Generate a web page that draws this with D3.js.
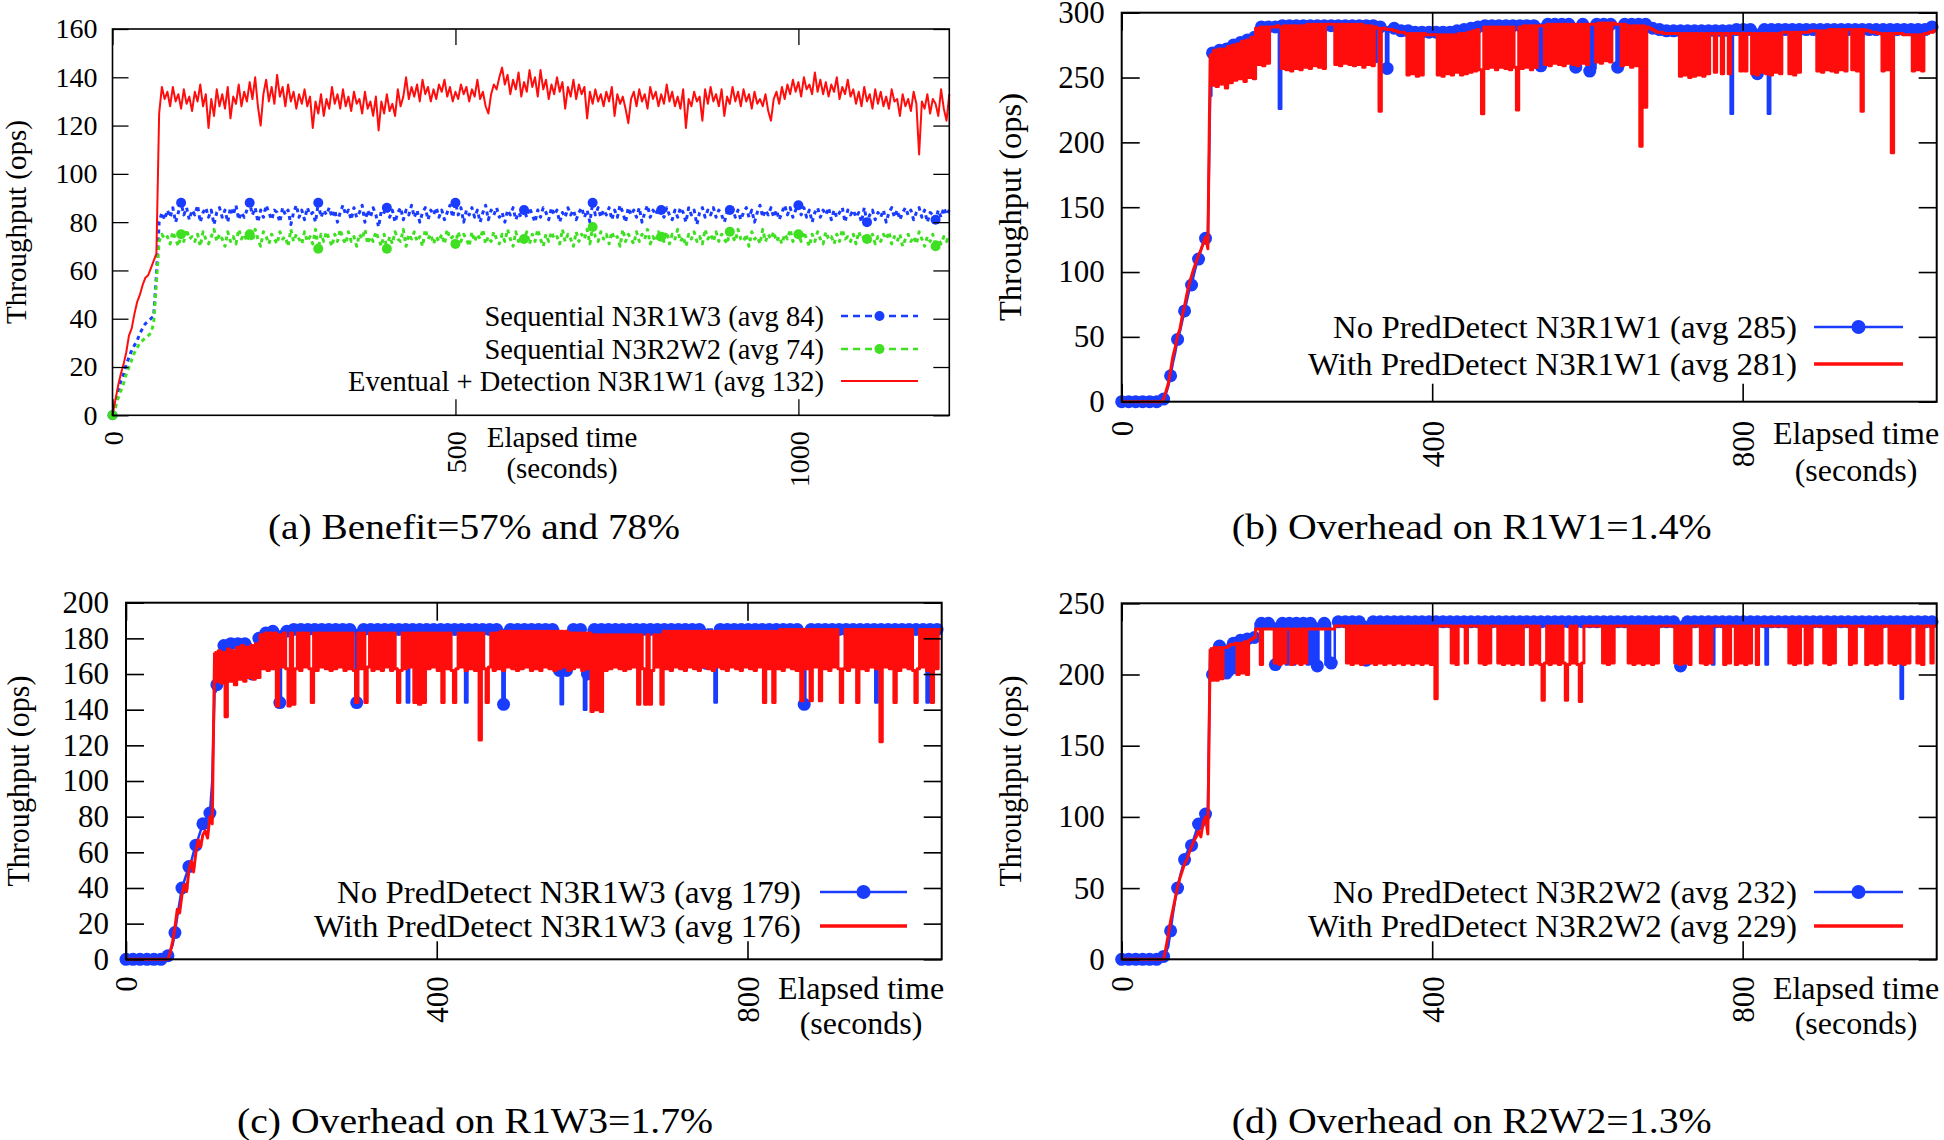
<!DOCTYPE html>
<html><head><meta charset="utf-8">
<script src="https://cdn.jsdelivr.net/npm/d3@7/dist/d3.min.js"></script>
<style>
html,body{margin:0;padding:0;background:#fff;}
svg{display:block;}
text{font-family:"Liberation Serif","Times New Roman",Times,serif;fill:#000;}
</style></head><body>
<svg id="chart" width="1944" height="1140"></svg>
<script>
// ================= DATA =================
// Panel (a): one value every 4 s, t = 0..1220
const aTimeStep = 4;
const aSeqN3R1W3 = [
0,5,10,14,17,21,24,27,29,31, 34,36,38,39,40,41,58,80,84,81,
85,82,86,80,84,88,83,86,81,85, 83,87,80,84,86,82,85,79,84,86,
82,85,80,86,83,87,81,84,82,85, 88,83,86,80,85,82,87,84,81,85,
84,80,86,83,85,79,84,87,82,85, 81,86,83,84,80,88,82,85,83,86,
82,85,80,84,87,83,85,81,86,82, 84,87,80,85,82,86,83,78,85,84,
86,82,85,80,84,86,81,85,83,87, 82,85,80,84,86,81,85,83,86,82,
85,81,84,87,82,88,83,86,80,85, 83,86,82,85,80,84,87,81,85,83,
86,82,84,80,85,83,86,81,84,82, 85,82,86,83,80,85,82,86,84,81,
86,83,85,80,84,82,86,83,85,81, 84,86,82,85,80,88,83,86,82,85,
83,86,81,85,82,87,84,80,86,83, 85,82,86,80,84,87,82,85,83,86,
85,82,86,83,81,85,82,86,84,80, 86,83,85,79,84,86,82,85,83,86,
82,85,83,80,84,85,86,82,85,81, 84,86,82,85,80,84,87,82,85,83,
86,82,85,81,84,87,83,86,82,85, 87,83,86,82,85,80,84,86,82,85,
83,86,81,85,82,84,86,80,85,83, 85,82,84,80,86,80,83,85,81,84,
82,85,80,84,86,82,85,81,84,86, 83,85,81,84,86,82,85,80,84,83,
81,85,82,86,83,85];
const aSeqN3R2W2 = [
0,3,7,10,13,17,20,23,26,28, 30,31,32,33,34,38,55,72,75,73,
74,71,76,73,70,75,72,77,73,74, 72,75,70,76,73,71,74,77,72,75,
73,70,76,72,74,71,77,73,75,72, 75,72,77,73,70,76,74,71,75,73,
71,76,73,74,70,77,72,75,73,71, 76,72,74,71,77,69,75,72,76,73,
70,75,72,77,73,71,76,72,74,70, 75,73,77,71,74,72,76,73,70,75,
69,74,71,76,73,72,77,70,75,73, 76,72,74,70,77,73,75,71,74,72,
75,71,77,73,74,71,76,72,75,73, 70,76,72,75,73,77,71,74,72,76,
73,71,75,72,77,73,70,76,72,74, 73,76,71,75,72,77,73,70,75,72,
76,73,74,71,77,72,75,73,70,76, 72,75,73,77,71,78,74,72,76,73,
75,71,76,73,74,70,77,72,75,73, 71,76,72,75,73,77,71,74,72,76,
74,72,76,71,75,73,77,72,74,70, 75,73,76,72,74,71,77,73,75,72,
76,72,75,73,71,76,74,72,77,73, 72,75,70,76,73,74,71,77,72,75,
73,76,72,74,71,75,73,77,72,74, 75,72,76,73,70,75,72,76,73,71,
76,73,74,71,75,72,77,73,74,72, 75,71,76,73,74,73,72,75,71,74,
72,75,73,76,71,74,72,75,70,73, 75,72,74,71,76,73,70,74,72,75,
70,73,71,74,72,75];
const aEventualN3R1W1 = [
0,6,12,17,21,26,33,36,42,47, 50,54,57,58,61,64,67,125,136,131,
134,128,136,130,133,127,135,129,132,126, 134,130,137,128,133,119,131,124,135,128,
133,127,136,123,132,129,137,128,134,130, 138,131,140,128,120,133,139,130,136,129,
141,132,136,128,137,130,134,127,133,129, 135,128,132,119,130,125,133,124,131,127,
136,129,133,127,135,128,132,126,134,129, 131,125,134,127,130,124,132,118,130,125,
133,126,129,124,135,128,132,140,131,136, 132,137,130,139,133,136,130,135,131,137,
134,139,132,136,130,134,131,137,133,136, 130,135,132,139,131,134,128,125,133,137,
135,140,144,137,141,133,139,135,142,132, 138,134,143,136,140,132,143,135,139,131,
137,133,140,134,138,127,136,132,139,131, 137,133,136,123,134,129,135,130,133,128,
134,130,136,124,133,129,132,127,121,131, 134,128,135,130,133,127,136,131,134,128,
133,129,137,130,134,128,132,127,135,119, 131,128,134,130,132,122,135,129,136,130,
133,128,135,124,132,129,136,130,134,128, 135,130,133,127,134,129,131,128,133,126,
122,131,134,129,136,131,137,133,139,134, 138,132,140,135,137,133,142,134,139,133,
138,132,137,134,140,131,136,133,139,132, 135,129,134,128,136,130,133,127,135,129,
134,128,132,127,135,130,131,124,133,128, 131,126,134,129,108,130,127,133,125,131,
129,124,135,127,122,133];

// Panels (b)(c)(d): one value every 3 s, t = 0..1050
const bcdTimeStep = 3;
const bNoPredDetect = [
0,0,0,0,0,0,0,0,0,0, 0,0,0,0,0,0,0,0,2,6,
12,20,30,38,48,54,62,70,78,86, 90,98,105,110,117,122,126,128,236,269,
268,270,271,245,272,272,273,274,275,276, 276,277,278,279,279,280,281,281,288,288,
289,289,289,289,289,289,289,289,226,290, 290,290,290,290,290,290,290,290,290,290,
290,290,290,290,290,290,290,290,290,290, 290,290,290,290,290,290,290,290,290,290,
290,290,290,290,290,290,290,290,290,262, 289,289,289,289,257,289,288,288,287,287,
286,286,286,286,286,286,285,285,285,285, 285,285,285,285,285,285,285,285,285,285,
285,285,285,286,286,286,287,287,288,288, 288,289,289,289,289,289,290,290,290,290,
290,290,290,290,290,290,290,290,290,290, 290,290,290,290,290,290,290,290,258,291,
259,291,291,291,291,291,291,291,291,291, 291,291,291,291,291,258,291,291,291,291,
291,255,291,257,291,291,291,291,291,291, 291,291,291,258,291,291,291,291,291,291,
291,291,291,291,291,291,290,289,288,287, 287,287,286,286,286,286,286,286,286,286,
286,286,286,286,286,286,286,286,286,286, 286,286,286,286,286,286,286,286,286,286,
286,286,222,287,287,287,287,287,287,287, 287,287,287,253,287,287,287,287,222,287,
287,287,287,287,287,287,287,287,287,287, 287,287,287,287,287,287,287,287,287,287,
287,287,287,287,287,287,287,287,287,287, 287,287,287,287,287,287,287,287,287,287,
287,287,287,287,287,287,287,287,287,287, 287,287,287,287,287,287,287,287,287,287,
287,287,287,287,287,287,288,288,289,289, 290];
const bWithPredDetect = [
0,0,0,0,0,0,0,0,0,0, 0,0,0,0,0,0,0,0,2,8,
14,24,35,42,51,56,66,74,83,91, 97,103,108,113,117,122,127,118,268,244,
271,243,272,245,272,242,274,246,275,248, 276,249,278,247,279,250,281,249,288,260,
289,259,289,261,289,289,289,290,289,257, 290,256,290,255,290,257,290,256,290,258,
291,257,291,259,291,258,291,257,291,291, 291,291,260,291,259,291,261,291,260,291,
259,291,260,291,258,290,260,290,259,289, 288,224,288,288,287,287,287,286,286,285,
285,285,284,252,284,253,284,251,284,252, 284,283,283,283,283,283,252,283,251,283,
253,283,252,283,254,284,252,284,253,285, 254,286,255,287,256,222,289,257,289,258,
289,256,289,258,289,257,289,256,289,258, 225,289,257,290,258,290,256,290,258,290,
290,290,260,291,259,291,261,291,260,291, 259,291,261,291,260,291,259,291,261,291,
260,291,291,291,262,292,261,292,263,292, 262,292,291,291,291,259,291,260,290,258,
290,259,290,197,290,227,289,288,287,286, 285,285,285,284,284,284,284,284,284,284,
251,284,252,284,250,284,251,284,252,284, 251,284,253,284,284,254,284,284,253,284,
284,253,284,284,284,284,255,284,255,284, 284,253,284,252,284,254,284,253,284,252,
284,254,284,253,285,285,285,253,285,252, 285,254,285,285,285,285,286,286,286,255,
286,254,286,256,287,255,287,254,287,256, 287,255,287,287,256,287,255,287,224,287,
286,286,285,285,285,284,284,255,284,256, 284,192,284,284,284,284,283,283,283,283,
255,283,256,283,255,284,284,285,285,286, 286];
const cNoPredDetect = [
0,0,0,0,0,0,0,0,0,0, 0,0,0,0,0,0,0,0,2,5,
8,15,24,32,40,44,48,52,55,60, 64,68,72,76,78,80,82,100,150,154,
170,176,176,176,176,177,177,177,177,177, 177,177,177,177,160,158,178,180,181,182,
183,184,184,184,184,184,144,184,184,184, 185,185,185,185,185,185,185,185,185,185,
185,185,185,185,185,185,185,185,185,185, 185,185,185,185,185,185,185,185,185,144,
185,185,185,185,185,185,185,185,185,185, 185,185,185,185,185,185,185,185,185,185,
185,144,185,185,185,185,185,185,185,185, 185,185,185,185,185,185,185,185,185,185,
185,185,185,185,185,185,144,185,185,185, 185,185,185,185,185,185,185,185,185,185,
185,185,143,185,185,185,185,185,185,185, 185,185,185,185,185,185,185,185,185,185,
185,185,185,185,185,185,162,143,162,162, 162,185,185,185,185,185,185,140,160,185,
185,185,185,185,185,185,185,185,185,185, 185,185,185,185,185,185,185,185,185,185,
185,185,185,185,185,185,185,185,185,185, 185,185,185,185,185,185,185,185,185,185,
185,185,185,185,185,185,185,185,185,166, 185,185,166,144,185,185,185,185,185,185,
185,185,185,185,185,185,185,185,185,185, 185,185,185,185,185,185,185,185,185,185,
185,185,185,185,185,185,185,185,185,185, 185,143,185,185,185,185,185,185,185,185,
185,185,185,185,185,185,185,185,185,185, 185,185,185,185,185,185,185,185,185,185,
185,185,144,185,185,185,185,185,185,185, 185,185,185,185,185,185,185,185,185,185,
185,185,185,185,144,185,185,185,185,185, 186];
const cWithPredDetect = [
0,0,0,0,0,0,0,0,0,0, 0,0,0,0,0,0,0,0,0,4,
10,18,28,26,36,42,38,50,55,49, 60,67,63,70,72,68,80,76,172,156,
173,155,172,136,174,156,173,154,175,157, 176,156,175,158,176,157,177,158,182,163,
183,162,183,163,183,142,182,164,183,163, 142,183,143,163,183,162,183,164,183,163,
144,183,162,183,164,183,163,183,162,183, 163,183,164,183,162,183,163,183,162,144,
183,163,183,144,164,183,162,183,163,183, 162,183,164,183,162,183,163,144,162,183,
163,183,164,183,144,183,143,183,144,183, 163,183,164,183,162,183,144,183,163,183,
162,144,163,183,164,183,162,183,163,183, 162,183,123,183,163,144,164,183,162,183,
163,184,162,184,164,184,163,184,162,184, 163,184,164,184,162,184,163,184,162,184,
164,184,163,184,162,184,163,184,164,184, 162,183,163,183,164,183,162,183,163,183,
139,182,140,182,139,182,162,182,163,182, 164,182,163,182,162,182,163,182,164,182,
143,182,163,143,182,143,162,182,164,182, 143,184,163,184,162,184,164,184,163,184,
162,184,164,184,163,184,162,184,164,184, 163,184,162,184,164,184,163,184,162,184,
164,184,163,184,162,184,164,184,163,184, 162,184,164,184,144,184,163,184,144,184,
163,185,162,185,164,185,163,185,162,185, 145,185,163,185,145,185,164,185,145,185,
163,185,162,185,164,185,163,144,163,185, 162,185,164,185,144,185,163,185,162,185,
164,185,163,185,122,185,164,185,163,185, 144,185,162,185,164,185,163,185,162,144,
163,185,164,185,162,185,144,185,163,185, 185];
const dNoPredDetect = [
0,0,0,0,0,0,0,0,0,0, 0,0,0,0,0,0,0,0,2,5,
9,20,32,42,50,58,64,70,75,78, 80,85,90,95,99,100,102,104,218,200,
219,200,220,199,220,201,221,200,222,201, 223,224,224,225,225,226,226,226,236,236,
236,236,236,236,236,236,207,236,207,236, 236,207,236,236,207,236,236,236,236,236,
207,236,207,236,206,236,236,236,207,236, 208,207,237,237,237,237,237,237,237,237,
237,237,237,237,237,210,237,237,237,237, 237,237,237,237,237,237,237,237,237,237,
237,237,237,237,237,237,237,237,237,237, 237,237,237,237,237,237,237,237,237,237,
237,237,237,237,237,237,237,237,237,237, 237,237,237,237,237,237,237,237,237,237,
237,237,237,237,237,237,237,237,237,237, 237,237,237,237,237,237,237,237,237,237,
237,237,237,237,237,237,237,237,237,237, 237,237,237,237,237,237,237,237,237,237,
237,237,237,237,237,237,237,237,237,237, 237,237,237,237,237,237,237,237,237,237,
237,237,237,237,237,237,237,237,237,237, 237,237,237,237,237,237,237,237,237,237,
206,237,237,237,237,237,237,237,237,237, 237,237,237,237,207,237,237,237,237,237,
237,237,237,237,237,237,237,237,237,237, 237,237,237,237,237,237,237,207,237,237,
237,237,237,237,237,237,237,237,237,237, 237,237,237,237,237,237,237,237,237,237,
237,237,237,237,237,237,237,237,237,237, 237,237,237,237,237,237,237,237,237,237,
237,237,237,237,237,237,237,237,237,237, 237,237,237,237,237,183,237,237,237,237,
237,237,237,237,237,237,237,237,237,237, 237];
const dWithPredDetect = [
0,0,0,0,0,0,0,0,0,0, 0,0,0,0,0,0,0,0,0,8,
17,27,35,43,51,57,62,67,70,75, 79,83,86,90,86,96,100,88,218,196,
219,196,219,197,219,219,220,221,221,222, 200,222,201,223,200,224,225,226,232,232,
207,232,232,232,232,232,208,232,207,232, 208,232,232,207,232,208,232,207,232,208,
232,232,232,232,232,232,232,232,232,232, 232,232,234,234,234,234,234,208,234,207,
234,208,234,207,234,208,234,208,234,207, 234,208,234,207,234,208,234,207,234,208,
234,207,234,208,234,207,234,208,234,207, 234,208,234,207,234,183,234,234,234,234,
234,234,208,234,207,234,234,234,208,234, 234,234,234,234,208,234,207,234,208,234,
234,234,208,234,207,234,208,234,207,234, 208,234,207,234,234,234,207,234,208,234,
207,182,208,234,207,234,208,234,207,234, 208,182,207,234,208,234,207,181,208,234,
234,234,234,234,234,234,234,208,234,207, 234,208,234,234,234,234,234,234,208,234,
207,234,208,234,207,234,208,234,207,234, 208,234,234,234,234,234,234,234,208,234,
207,234,208,234,207,234,234,234,234,208, 234,207,234,208,234,234,234,234,234,207,
234,208,234,234,207,234,208,234,207,234, 208,234,234,207,234,234,234,234,234,234,
234,234,234,234,234,234,234,208,234,207, 234,208,234,234,207,234,208,234,234,234,
234,234,208,234,207,234,208,234,234,234, 234,234,234,207,234,208,234,234,234,234,
207,234,208,234,207,234,208,234,234,234, 208,234,207,234,208,234,207,234,208,234,
234,234,208,234,207,234,234,234,208,234, 234];

// Tick labels
const aYTicks = [0,20,40,60,80,100,120,140,160];
const aXTicks = [0,500,1000];
const bYTicks = [0,50,100,150,200,250,300];
const cYTicks = [0,20,40,60,80,100,120,140,160,180,200];
const dYTicks = [0,50,100,150,200,250];
const bcdXTicks = [0,400,800];

// Texts
const yTitle = "Throughput (ops)";
const xTitle1 = "Elapsed time", xTitle2 = "(seconds)";
const aLegend = ["Sequential N3R1W3 (avg 84)","Sequential N3R2W2 (avg 74)","Eventual + Detection N3R1W1 (avg 132)"];
const bLegend = ["No PredDetect N3R1W1 (avg 285)","With PredDetect N3R1W1 (avg 281)"];
const cLegend = ["No PredDetect N3R1W3 (avg 179)","With PredDetect N3R1W3 (avg 176)"];
const dLegend = ["No PredDetect N3R2W2 (avg 232)","With PredDetect N3R2W2 (avg 229)"];
const captions = ["(a)  Benefit=57% and 78%","(b)  Overhead on R1W1=1.4%","(c)  Overhead on R1W3=1.7%","(d)  Overhead on R2W2=1.3%"];

// ================= DRAWING =================
const BLUE = "#1a3cff", RED = "#ff0d0d", GREEN = "#3fe021";
const svg = d3.select("#chart");

function drawPanel(P){
  const x = d3.scaleLinear().domain([0, P.xMax]).range([P.left, P.right]);
  const y = d3.scaleLinear().domain([0, P.yMax]).range([P.bottom, P.top]);
  const g = svg.append("g");

  P.series.forEach(s => {
    const pts = s.values.map((v, i) => ({t: i * s.step, v: v}));
    const parts = [];
    if (s.stepFrom != null) {
      parts.push({pts: pts.filter(d => d.t <= s.stepFrom), curve: d3.curveLinear});
      parts.push({pts: pts.filter(d => d.t >= s.stepFrom), curve: d3.curveStep});
    } else {
      parts.push({pts: pts, curve: d3.curveLinear});
    }
    parts.forEach(pp => {
      g.append("path").datum(pp.pts)
        .attr("d", d3.line().curve(pp.curve).x(d => x(d.t)).y(d => y(d.v)))
        .attr("fill", "none").attr("stroke", s.color).attr("stroke-width", s.width)
        .attr("stroke-linejoin", "round")
        .attr("stroke-dasharray", s.dash || null);
    });
    if (s.markEvery) {
      g.append("g").selectAll("circle")
        .data(pts.filter((d, i) => i % s.markEvery === 0))
        .join("circle")
        .attr("cx", d => x(d.t)).attr("cy", d => y(d.v))
        .attr("r", s.r).attr("fill", s.color);
    }
  });

  g.append("rect").attr("x", P.left).attr("y", P.top)
    .attr("width", P.right - P.left).attr("height", P.bottom - P.top)
    .attr("fill", "none").attr("stroke", "#000").attr("stroke-width", P.frameW);

  const clean = sel => {
    sel.attr("font-family", null).attr("font-size", null);
    sel.select(".domain").remove();
    sel.selectAll("line").attr("stroke", "#000").attr("stroke-width", P.frameW * 0.8);
  };

  const yl = g.append("g").attr("transform", `translate(${P.left},0)`)
    .call(d3.axisLeft(y).tickValues(P.yTicks).tickSizeInner(-P.tick).tickSizeOuter(0)
      .tickPadding(P.yPad).tickFormat(d3.format("d")));
  clean(yl);
  yl.selectAll("text").style("font-size", P.tickFont + "px");

  const yr = g.append("g").attr("transform", `translate(${P.right},0)`)
    .call(d3.axisRight(y).tickValues(P.yTicks).tickSizeInner(-P.tick).tickSizeOuter(0).tickFormat(""));
  clean(yr);

  const xb = g.append("g").attr("transform", `translate(0,${P.bottom})`)
    .call(d3.axisBottom(x).tickValues(P.xTicks).tickSizeInner(-P.tick).tickSizeOuter(0).tickFormat(d3.format("d")));
  clean(xb);
  xb.selectAll("text").attr("transform", "rotate(-90)").attr("x", -P.xPad).attr("y", 0)
    .attr("dy", "0.35em").attr("text-anchor", "end").style("font-size", P.tickFont + "px");

  const xt = g.append("g").attr("transform", `translate(0,${P.top})`)
    .call(d3.axisTop(x).tickValues(P.xTicks).tickSizeInner(-P.tick).tickSizeOuter(0).tickFormat(""));
  clean(xt);

  // y title
  const yt = g.append("text").attr("transform", `translate(${P.yTitleX},${P.yTitleY}) rotate(-90)`)
    .attr("dy", "0.35em").attr("text-anchor", "middle").style("font-size", P.titleFont + "px").text(yTitle);
  if (P.yTitleLen) yt.attr("textLength", P.yTitleLen).attr("lengthAdjust", "spacingAndGlyphs");

  // x title
  g.append("text").attr("x", P.xTitleX).attr("y", P.xTitleY1).attr("dy", "0.35em")
    .attr("text-anchor", "middle").style("font-size", P.titleFont + "px").text(xTitle1);
  g.append("text").attr("x", P.xTitleX).attr("y", P.xTitleY2).attr("dy", "0.35em")
    .attr("text-anchor", "middle").style("font-size", P.titleFont + "px").text(xTitle2);

  // legend
  P.legend.forEach((L, i) => {
    const yy = P.legY[i];
    const t = g.append("text").attr("x", P.legTextX).attr("y", yy).attr("dy", "0.35em")
      .attr("text-anchor", "end").style("font-size", P.legFont + "px").text(L.label);
    if (L.len) t.attr("textLength", L.len).attr("lengthAdjust", "spacingAndGlyphs");
    g.append("line").attr("x1", P.legS1).attr("x2", P.legS2).attr("y1", yy).attr("y2", yy)
      .attr("stroke", L.color).attr("stroke-width", L.sw).attr("stroke-dasharray", L.dash || null);
    if (L.r) g.append("circle").attr("cx", (P.legS1 + P.legS2) / 2).attr("cy", yy).attr("r", L.r).attr("fill", L.color);
  });

  // caption
  g.append("text").attr("x", P.capX).attr("y", P.capY).attr("dy", "0.35em")
    .style("font-size", P.capFont + "px").attr("textLength", P.capLen).attr("lengthAdjust", "spacingAndGlyphs")
    .text(P.caption);
}

// Panel (a)
drawPanel({
  left: 112.5, right: 949.3, top: 29, bottom: 415.3, xMax: 1220, yMax: 160,
  yTicks: aYTicks, xTicks: aXTicks, tick: 16, yPad: 15, xPad: 16, tickFont: 28, frameW: 1.6,
  series: [
    {values: aSeqN3R1W3, step: aTimeStep, color: BLUE, width: 3, dash: "4,4", markEvery: 25, r: 5},
    {values: aSeqN3R2W2, step: aTimeStep, color: GREEN, width: 3, dash: "4,4", markEvery: 25, r: 5},
    {values: aEventualN3R1W1, step: aTimeStep, color: RED, width: 2}
  ],
  yTitleX: 16, yTitleY: 222, titleFont: 29,
  xTitleX: 562, xTitleY1: 437, xTitleY2: 468,
  legend: [
    {label: aLegend[0], color: BLUE, sw: 2.6, dash: "7,5", r: 5},
    {label: aLegend[1], color: GREEN, sw: 2.6, dash: "7,5", r: 5},
    {label: aLegend[2], color: RED, sw: 2.2}
  ],
  legTextX: 824, legS1: 841, legS2: 918, legY: [316, 349, 381], legFont: 28.5,
  caption: captions[0], capX: 268, capY: 527, capFont: 35, capLen: 412
});

// Panel (b)
drawPanel({
  left: 1121.7, right: 1936.7, top: 12.7, bottom: 401.7, xMax: 1050, yMax: 300,
  yTicks: bYTicks, xTicks: bcdXTicks, tick: 18, yPad: 17, xPad: 19, tickFont: 31, frameW: 2,
  series: [
    {values: bNoPredDetect, step: bcdTimeStep, color: BLUE, width: 2.5, markEvery: 3, r: 6.5, stepFrom: 114},
    {values: bWithPredDetect, step: bcdTimeStep, color: RED, width: 3, stepFrom: 114}
  ],
  yTitleX: 1010, yTitleY: 207, titleFont: 32, yTitleLen: 228,
  xTitleX: 1856, xTitleY1: 433, xTitleY2: 470,
  legend: [
    {label: bLegend[0], color: BLUE, sw: 2.5, r: 7, len: 464},
    {label: bLegend[1], color: RED, sw: 3.5, len: 489}
  ],
  legTextX: 1797, legS1: 1814, legS2: 1903, legY: [327, 364], legFont: 31,
  caption: captions[1], capX: 1231.7, capY: 527, capFont: 35, capLen: 480
});

// Panel (c)
drawPanel({
  left: 126, right: 941.7, top: 602.7, bottom: 959.3, xMax: 1050, yMax: 200,
  yTicks: cYTicks, xTicks: bcdXTicks, tick: 18, yPad: 17, xPad: 17, tickFont: 31, frameW: 2,
  series: [
    {values: cNoPredDetect, step: bcdTimeStep, color: BLUE, width: 2.5, markEvery: 3, r: 6.5, stepFrom: 114},
    {values: cWithPredDetect, step: bcdTimeStep, color: RED, width: 3, stepFrom: 114}
  ],
  yTitleX: 18, yTitleY: 781, titleFont: 32, yTitleLen: 211,
  xTitleX: 861, xTitleY1: 988, xTitleY2: 1023,
  legend: [
    {label: cLegend[0], color: BLUE, sw: 2.5, r: 7, len: 464},
    {label: cLegend[1], color: RED, sw: 3.5, len: 487}
  ],
  legTextX: 801, legS1: 820, legS2: 907, legY: [892, 926], legFont: 31,
  caption: captions[2], capX: 237, capY: 1121, capFont: 35, capLen: 476
});

// Panel (d)
drawPanel({
  left: 1121.7, right: 1936.7, top: 603.3, bottom: 959.3, xMax: 1050, yMax: 250,
  yTicks: dYTicks, xTicks: bcdXTicks, tick: 18, yPad: 17, xPad: 17, tickFont: 31, frameW: 2,
  series: [
    {values: dNoPredDetect, step: bcdTimeStep, color: BLUE, width: 2.5, markEvery: 3, r: 6.5, stepFrom: 114},
    {values: dWithPredDetect, step: bcdTimeStep, color: RED, width: 3, stepFrom: 114}
  ],
  yTitleX: 1010, yTitleY: 781, titleFont: 32, yTitleLen: 211,
  xTitleX: 1856, xTitleY1: 988, xTitleY2: 1023,
  legend: [
    {label: dLegend[0], color: BLUE, sw: 2.5, r: 7, len: 464},
    {label: dLegend[1], color: RED, sw: 3.5, len: 489}
  ],
  legTextX: 1797, legS1: 1814, legS2: 1903, legY: [892, 926], legFont: 31,
  caption: captions[3], capX: 1231.7, capY: 1121, capFont: 35, capLen: 480
});
</script>
</body></html>
